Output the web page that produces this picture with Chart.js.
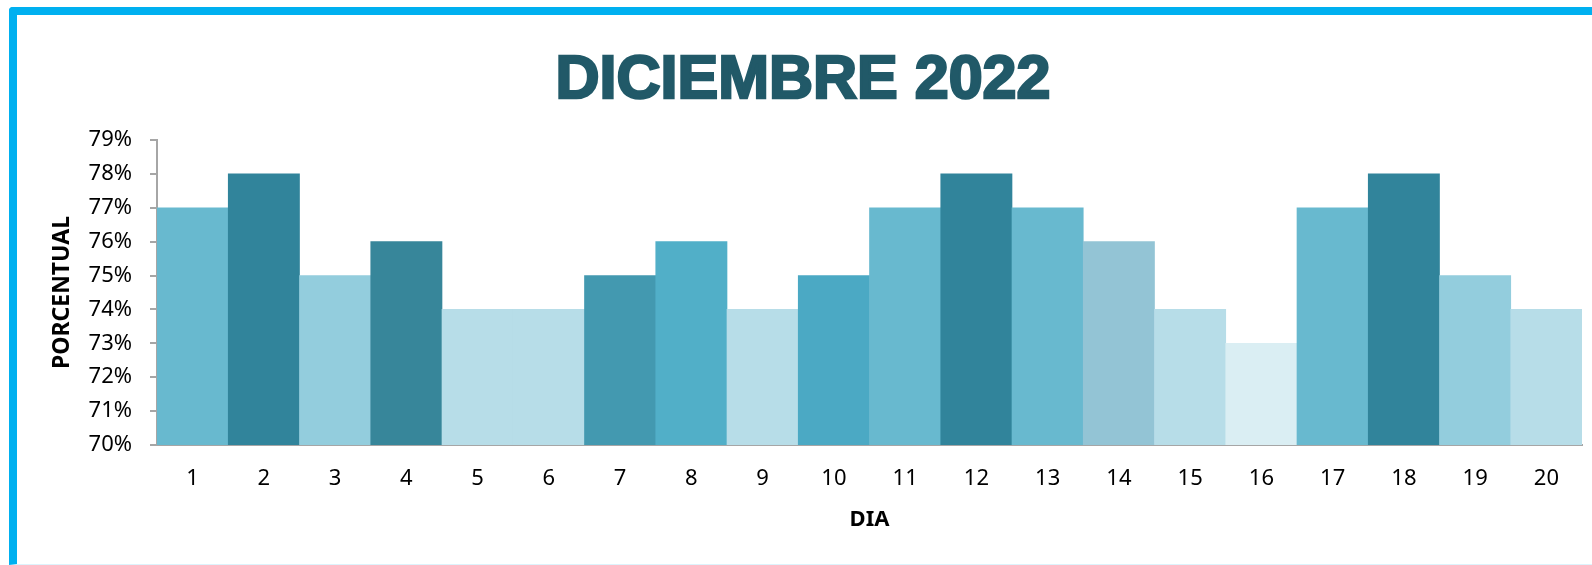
<!DOCTYPE html>
<html>
<head>
<meta charset="utf-8">
<script src="https://cdn.jsdelivr.net/npm/chart.js@4.4.0/dist/chart.umd.min.js"></script>
<style>
  html, body { margin: 0; padding: 0; background: #fff; width: 1592px; height: 565px; overflow: hidden; }
  #marco {
    position: absolute; left: 9px; top: 7px; width: 1700px; height: 549px;
    border-left: 8px solid #00B0F0; border-top: 8px solid #00B0F0;
    border-bottom: 1px solid #DDF3FC; border-top-left-radius: 4px;
  }
  #titulo {
    position: absolute; left: 0; top: 41px; width: 1606px; text-align: center;
    font-family: "Liberation Sans", Arial, sans-serif; font-weight: bold; font-size: 61px;
    line-height: 72px; color: #215968; -webkit-text-stroke: 2.5px #215968;
  }
  #grafico { position: absolute; left: 0; top: 0; }
</style>
</head>
<body>
<div id="marco"></div>
<div id="titulo">DICIEMBRE 2022</div>
<canvas id="grafico" width="1592" height="565"></canvas>
<script>
// ======================
// Datos
// ======================
const dias = ["1", "2", "3", "4", "5", "6", "7", "8", "9", "10",
              "11", "12", "13", "14", "15", "16", "17", "18", "19", "20"];
const porcentajes = [77, 78, 75, 76, 74, 74, 75, 76, 74, 75,
                     77, 78, 77, 76, 74, 73, 77, 78, 75, 74];
const coloresBarras = ["#68B9CF", "#31849B", "#93CDDD", "#37869A", "#B7DDE8",
                       "#B7DDE8", "#4399B0", "#51AFC8", "#B7DDE8", "#4BA9C4",
                       "#68B9CF", "#31849B", "#68B9CF", "#93C4D5", "#B7DDE8",
                       "#DAEEF3", "#68B9CF", "#31849B", "#93CDDD", "#B7DDE8"];

const fuente = "'Noto Sans', 'Open Sans', sans-serif";

// ======================
// Grafico de barras
// ======================
new Chart(document.getElementById("grafico"), {
  type: "bar",
  data: {
    labels: dias,
    datasets: [{
      data: porcentajes,
      backgroundColor: coloresBarras,
      borderWidth: 0,
      barPercentage: 1,
      categoryPercentage: 1
    }]
  },
  options: {
    responsive: false,
    animation: false,
    layout: { padding: { left: 0, right: 10, top: 140, bottom: 0 } },
    plugins: { legend: { display: false }, tooltip: { enabled: false }, title: { display: false } },
    scales: {
      x: {
        grid: { display: false, drawTicks: false },
        border: { display: true, color: "#A6A6A6", width: 2 },
        ticks: { color: "#000", font: { family: fuente, size: 22 }, padding: 21, maxRotation: 0 },
        title: {
          display: true, text: "DIA", color: "#000",
          font: { family: fuente, size: 22, weight: "bold" },
          padding: { top: 0, bottom: 32 }
        },
        afterFit: (s) => { s.height = 120; }
      },
      y: {
        min: 70, max: 79,
        grid: { display: true, drawOnChartArea: false, drawTicks: true, tickLength: 7, color: "#A6A6A6", lineWidth: 2 },
        border: { display: true, color: "#A6A6A6", width: 2 },
        ticks: {
          stepSize: 1, color: "#000", padding: 18,
          font: { family: fuente, size: 22 },
          callback: (v) => v + "%"
        },
        title: {
          display: true, text: "PORCENTUAL", color: "#000",
          font: { family: fuente, size: 23, weight: "bold" },
          padding: { top: 49, bottom: 0 }
        },
        afterFit: (s) => { s.width = 157; }
      }
    }
  }
});
</script>
</body>
</html>
